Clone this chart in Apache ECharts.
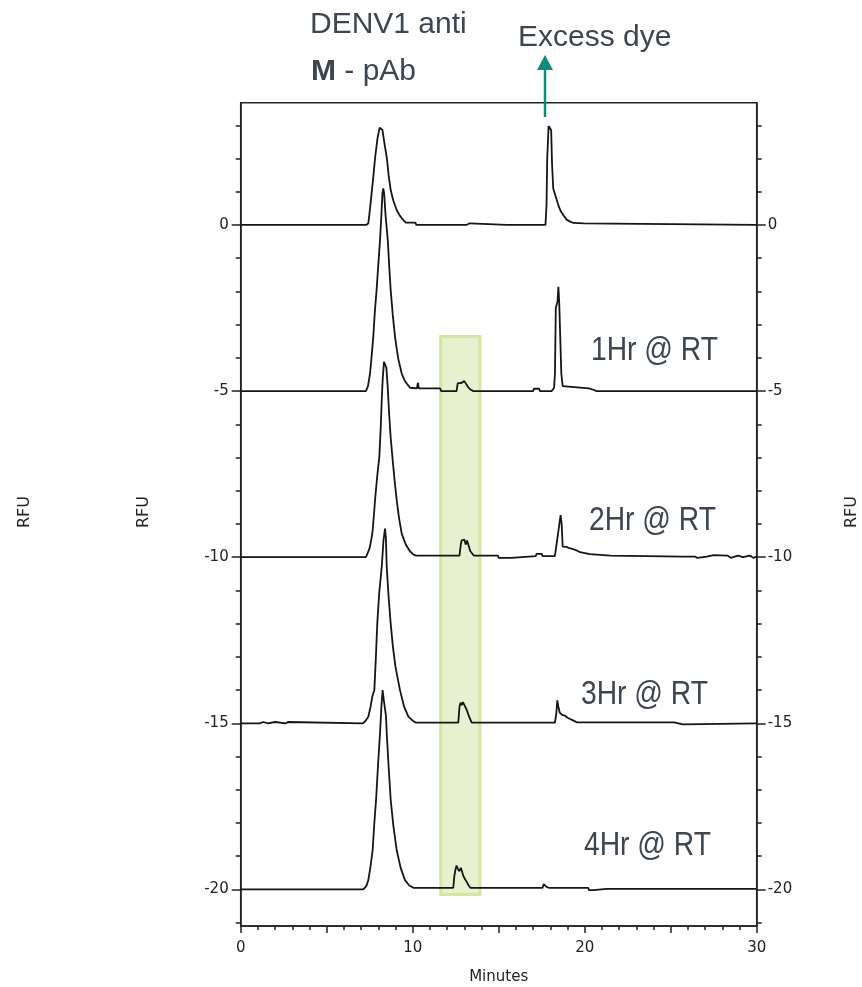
<!DOCTYPE html>
<html><head><meta charset="utf-8">
<script src="https://cdn.jsdelivr.net/npm/echarts@6/dist/echarts.min.js"></script>
<style>html,body{margin:0;padding:0;background:#fff}#c{width:862px;height:987px}</style>
</head><body><div id="c"></div>
<script>
// ---- data (minutes, RFU) ----
const trace0h = [[0,0],[7.3,0],[7.42,0.05],[7.52,0.5],[7.63,1.05],[7.72,1.5],[7.81,2.0],[7.95,2.6],[8.08,2.93],[8.16,2.97],[8.24,2.86],[8.36,2.45],[8.5,2.0],[8.6,1.5],[8.72,1.05],[8.88,0.72],[9.07,0.45],[9.25,0.28],[9.45,0.15],[9.6,0.07],[10.15,0.07],[10.22,0],[13.12,0],[13.2,0.05],[13.32,0.05],[13.4,0],[15.45,0],[15.52,0.05],[15.62,0],[16.6,0],[16.68,0.05],[16.78,0],[17.72,0],[17.78,0.6],[17.82,2.0],[17.87,2.6],[17.9,2.98],[17.98,3.0],[18.05,2.85],[18.1,1.85],[18.17,1.1],[18.3,0.88],[18.45,0.62],[18.6,0.42],[18.75,0.3],[18.95,0.16],[19.15,0.1],[19.35,0.06],[19.95,0.05],[20.02,0],[30,0]];
const trace1h = [[0,-5],[7.28,-5],[7.4,-4.85],[7.52,-4.47],[7.62,-3.9],[7.71,-3.36],[7.8,-2.6],[7.9,-1.96],[8.0,-1.2],[8.1,-0.45],[8.18,0.3],[8.24,0.95],[8.29,1.1],[8.34,0.95],[8.42,0.3],[8.55,-0.45],[8.63,-1.2],[8.72,-1.96],[8.84,-2.7],[8.97,-3.36],[9.15,-4.0],[9.36,-4.47],[9.5,-4.65],[9.65,-4.77],[9.85,-4.9],[10.25,-4.92],[10.3,-4.75],[10.36,-4.92],[11.6,-4.92],[11.65,-5],[12.55,-5],[12.62,-4.76],[12.72,-4.7],[12.8,-4.76],[12.9,-4.82],[13.0,-4.7],[13.1,-4.75],[13.22,-4.88],[13.35,-4.95],[13.53,-5],[17.0,-5],[17.05,-4.93],[17.35,-4.93],[17.4,-5],[18.08,-5],[18.22,-4.9],[18.27,-4.47],[18.32,-2.5],[18.42,-2.3],[18.47,-1.86],[18.52,-2.36],[18.58,-2.4],[18.64,-4.47],[18.72,-4.85],[18.8,-4.9],[20.25,-4.92],[20.35,-4.93],[20.5,-4.96],[20.6,-4.92],[20.7,-5],[30,-5]];
const trace2h = [[0,-10],[7.28,-10],[7.38,-9.88],[7.5,-9.72],[7.6,-9.45],[7.67,-9.2],[7.75,-8.7],[7.81,-8.28],[7.93,-7.6],[8.06,-6.98],[8.14,-6.1],[8.2,-5.27],[8.26,-4.6],[8.33,-4.12],[8.4,-4.07],[8.47,-4.3],[8.55,-4.9],[8.62,-5.6],[8.72,-6.4],[8.84,-7.1],[8.95,-7.7],[9.07,-8.28],[9.2,-8.8],[9.36,-9.29],[9.6,-9.62],[9.84,-9.82],[10.05,-9.92],[10.2,-9.95],[12.72,-9.95],[12.8,-9.6],[12.85,-9.49],[12.92,-9.55],[13.0,-9.47],[13.08,-9.62],[13.16,-9.5],[13.25,-9.65],[13.35,-9.82],[13.55,-9.95],[14.95,-9.95],[15.0,-10.02],[15.75,-10.02],[15.8,-9.97],[17.15,-9.97],[17.2,-9.9],[17.5,-9.9],[17.55,-9.97],[18.25,-9.97],[18.3,-9.85],[18.5,-9.1],[18.6,-8.73],[18.66,-9.0],[18.72,-9.68],[18.95,-9.69],[19.1,-9.73],[19.34,-9.76],[19.55,-9.8],[19.73,-9.85],[20.3,-9.91],[21.5,-9.95],[21.55,-9.98],[25.7,-9.98],[25.75,-9.93],[25.85,-9.98],[26.4,-9.98],[26.45,-9.94],[26.55,-10.02],[27.1,-9.98],[27.5,-9.94],[27.6,-10.0],[28.3,-9.95],[28.5,-10.02],[28.9,-9.95],[29.2,-10.0],[29.6,-9.95],[29.8,-10.02],[30,-9.98]];
const trace3h = [[0,-15],[1.1,-15],[1.15,-14.96],[1.3,-14.96],[1.35,-15],[1.6,-15],[1.65,-14.96],[2.0,-14.96],[2.05,-15],[2.6,-15],[2.65,-14.96],[2.75,-14.96],[2.8,-15],[7.1,-15],[7.25,-14.93],[7.42,-14.8],[7.55,-14.5],[7.65,-14.2],[7.77,-14.0],[7.86,-13.0],[7.94,-12.0],[8.05,-11.1],[8.2,-10.29],[8.3,-9.5],[8.39,-9.14],[8.44,-9.4],[8.49,-10.29],[8.6,-11.2],[8.72,-12.0],[8.85,-12.7],[9.0,-13.3],[9.26,-14.0],[9.5,-14.5],[9.75,-14.8],[10.0,-14.92],[10.2,-14.98],[12.65,-14.98],[12.72,-14.5],[12.78,-14.38],[12.85,-14.45],[12.92,-14.36],[13.0,-14.4],[13.1,-14.55],[13.18,-14.65],[13.28,-14.8],[13.43,-14.98],[18.27,-14.98],[18.35,-14.7],[18.41,-14.31],[18.47,-14.5],[18.55,-14.68],[18.7,-14.75],[18.86,-14.77],[19.0,-14.83],[19.15,-14.87],[19.35,-14.92],[19.55,-14.97],[25.2,-14.97],[25.25,-15.03],[25.7,-15.03],[25.75,-15.0],[30,-15.0]];
const trace4h = [[0,-20],[0.2,-20],[0.25,-19.95],[0.3,-20],[7.13,-20],[7.3,-19.9],[7.42,-19.72],[7.55,-19.3],[7.67,-18.82],[7.77,-18.0],[7.87,-17.3],[7.98,-16.3],[8.1,-15.3],[8.18,-14.5],[8.25,-14.0],[8.32,-14.3],[8.45,-14.8],[8.49,-15.3],[8.6,-16.3],[8.72,-17.3],[8.88,-18.1],[9.07,-18.82],[9.3,-19.35],[9.55,-19.72],[9.8,-19.88],[10.04,-19.95],[12.36,-19.95],[12.42,-19.6],[12.48,-19.42],[12.55,-19.28],[12.63,-19.38],[12.71,-19.45],[12.8,-19.35],[12.87,-19.33],[12.95,-19.6],[13.05,-19.7],[13.14,-19.77],[13.25,-19.88],[13.35,-19.95],[17.55,-19.95],[17.62,-19.84],[17.7,-19.83],[17.78,-19.92],[17.85,-19.9],[17.92,-19.95],[20.2,-19.95],[20.25,-20.02],[20.5,-20.02],[20.55,-19.98],[21.28,-19.98],[21.32,-19.92],[21.36,-19.98],[30,-19.98]];
const traces = [trace0h, trace1h, trace2h, trace3h, trace4h];
const traceNames = ['0Hr', '1Hr @ RT', '2Hr @ RT', '3Hr @ RT', '4Hr @ RT'];
const xTickLabels = [0, 10, 20, 30];
const yTickLabels = [-20, -15, -10, -5, 0];
const yMinorTicks = [-21,-20,-19,-18,-17,-16,-15,-14,-13,-12,-11,-10,-9,-8,-7,-6,-5,-4,-3,-2,-1,0,1,2,3];
const boxMinutes = [11.63, 13.91];
const boxRFU = [-3.36, -20.15];

const TXT = '#3d4650', AX = '#222';
const chart = echarts.init(document.getElementById('c'), null, {renderer: 'canvas'});
const tickFont = {fontFamily: 'DejaVu Sans', fontSize: 15, color: AX};
function yAx(pos, major, margin) {
  return {
    type: 'value', position: pos, min: -21.1, max: 3.68,
    axisLine: {show: !major, onZero: false, lineStyle: {color: AX, width: 1.5}},
    axisTick: {show: true, customValues: major ? yTickLabels : yMinorTicks, length: major ? 9 : 5, lineStyle: {color: AX, width: 1.5}},
    axisLabel: Object.assign({show: major, customValues: yTickLabels, margin: margin}, tickFont),
    splitLine: {show: false}
  };
}
const series = traces.map((t, i) => ({
  name: traceNames[i], type: 'line', data: t, showSymbol: false, symbol: 'none',
  lineStyle: {color: '#151515', width: 1.8}, z: 3, silent: true, animation: false
}));
series.unshift({
  type: 'line', data: [], z: 1, silent: true, animation: false,
  markArea: {silent: true, itemStyle: {color: '#e7f1cf', borderColor: '#d4e6a2', borderWidth: 3},
    data: [[{coord: [boxMinutes[0], boxRFU[0]]}, {coord: [boxMinutes[1], boxRFU[1]]}]]}
});
const hrLabels = [['1Hr @ RT', 591, 351], ['2Hr @ RT', 589, 521], ['3Hr @ RT', 581, 695], ['4Hr @ RT', 584, 846]];
const rfuFont = '16px "DejaVu Sans"';
const graphic = [
  {type: 'text', x: 310, y: 25, style: {text: 'DENV1 anti', font: '30px "Liberation Sans"', fill: TXT, verticalAlign: 'middle'}},
  {type: 'text', x: 311, y: 72, style: {text: '{b|M} - pAb', fontSize: 30, fontFamily: 'Liberation Sans', fill: TXT, verticalAlign: 'middle',
    rich: {b: {fontWeight: 'bold', fontSize: 30, fontFamily: 'Liberation Sans', fill: TXT}}}},
  {type: 'text', x: 518, y: 38, style: {text: 'Excess dye', font: '30px "Liberation Sans"', fill: TXT, verticalAlign: 'middle'}},
  {type: 'line', shape: {x1: 545, y1: 117, x2: 545, y2: 66}, style: {stroke: '#14897b', lineWidth: 2.5}},
  {type: 'polygon', shape: {points: [[537, 70], [553, 70], [545, 55]]}, style: {fill: '#14897b'}},
  {type: 'text', x: 25, y: 512, rotation: Math.PI / 2, style: {text: 'RFU', font: rfuFont, fill: AX, align: 'center', verticalAlign: 'middle'}},
  {type: 'text', x: 144, y: 512, rotation: Math.PI / 2, style: {text: 'RFU', font: rfuFont, fill: AX, align: 'center', verticalAlign: 'middle'}},
  {type: 'text', x: 852, y: 512, rotation: Math.PI / 2, style: {text: 'RFU', font: rfuFont, fill: AX, align: 'center', verticalAlign: 'middle'}}
].concat(hrLabels.map(h => ({type: 'text', x: h[1], y: h[2], scaleX: 0.83,
  style: {text: h[0], font: '34px "Liberation Sans"', fill: TXT, verticalAlign: 'middle'}})));

chart.setOption({
  animation: false,
  backgroundColor: '#fff',
  grid: {left: 240.7, right: 105.3, top: 102.7, bottom: 61, show: true, borderColor: AX, borderWidth: 1.5, containLabel: false, outerBoundsMode: 'none'},
  xAxis: {
    type: 'value', min: 0, max: 30, interval: 5,
    name: 'Minutes', nameLocation: 'middle', nameGap: 44,
    nameTextStyle: {fontFamily: 'DejaVu Sans', fontSize: 15, color: AX},
    axisLine: {show: true, onZero: false, lineStyle: {color: AX, width: 1.5}},
    axisTick: {show: true, length: 7, lineStyle: {color: AX, width: 1.5}},
    minorTick: {show: true, splitNumber: 5, length: 4, lineStyle: {color: AX, width: 1.5}},
    axisLabel: Object.assign({margin: 15, customValues: xTickLabels}, tickFont),
    splitLine: {show: false}, minorSplitLine: {show: false}
  },
  yAxis: [yAx('left', false, 12), yAx('left', true, 12), yAx('right', false, 11), yAx('right', true, 11)],
  series: series,
  graphic: graphic
});
</script></body></html>
